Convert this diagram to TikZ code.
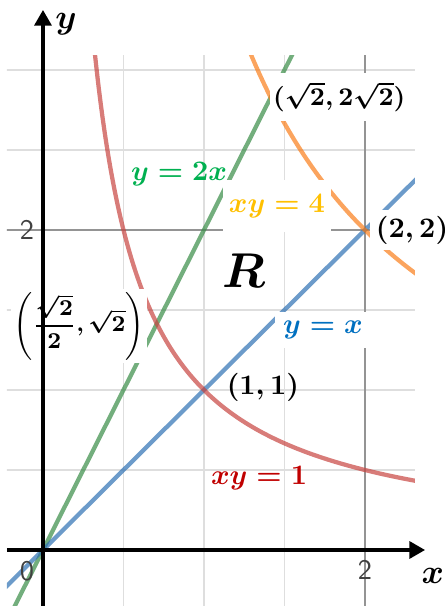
\documentclass[tikz,border=0pt]{standalone}
\usepackage{amsmath}
\usetikzlibrary{arrows.meta}
\definecolor{dsred}{HTML}{C74440}
\definecolor{dsblue}{HTML}{2D70B3}
\definecolor{dsgreen}{HTML}{388C46}
\definecolor{dsorange}{HTML}{FA7E19}
\definecolor{txtred}{HTML}{C00000}
\definecolor{txtblue}{HTML}{0070C0}
\definecolor{txtgreen}{HTML}{00B050}
\definecolor{txtgold}{HTML}{FFC000}
\tikzset{
  minorgrid/.style={draw=black!13, line width=0.55pt},
  majorgrid/.style={draw=black!42, line width=0.6pt},
  curve/.style={line width=1.5pt, opacity=0.7},
  axis/.style={line width=1.1pt, -{Triangle[length=5.5pt,width=6pt]}},
  lbl/.style={fill=white, inner sep=2pt, font=\boldmath},
  tick/.style={font=\sffamily, text=black!75, inner sep=0pt},
}
\begin{document}
\begin{tikzpicture}[x=2cm, y=1.9876cm]
\useasboundingbox (-0.267,-0.35) rectangle (2.491,3.4375);
% grid and curves:
\begin{scope}
\clip (-0.224,-0.35) rectangle (2.31,3.09);
\draw[minorgrid] (-0.5,-0.5) grid[step=0.5] (2.5,3.5);
\draw[majorgrid] (2,-0.5) -- (2,3.5) (-0.5,2) -- (2.5,2);
\draw[curve, dsgreen] (-0.5,-1) -- (2,4);
\draw[curve, dsblue] (-0.5,-0.5) -- (2.5,2.5);
\draw[curve, dsred] plot[domain=0.3:2.4, samples=90, smooth] (\x,{1/\x});
\draw[curve, dsorange] plot[domain=1.2:2.4, samples=60, smooth] (\x,{4/\x});
\end{scope}
% labels:
\node[lbl, inner xsep=1pt, inner ysep=3pt, font=\boldmath\fontsize{9.5}{11}\selectfont] (ptA) at (1.84,2.831) {$(\sqrt{2},2\sqrt{2})$};
\node[lbl] (ptB) at (2.292,2.0) {$(2,2)$};
\node[lbl, text=txtgold, inner xsep=2pt, inner ysep=5pt] (hypfour) at (1.453,2.15) {$xy=4$};
\node[lbl, text=txtgreen, fill=none] (linetwo) at (0.845,2.35) {$y=2x$};
\node[font=\boldmath\fontsize{19}{21}\selectfont] (region) at (1.248,1.744) {$R$};
\node[lbl, text=txtblue, inner sep=3pt] (lineone) at (1.739,1.375) {$y=x$};
\node[lbl, fill=none] (ptC) at (1.366,1.019) {$(1,1)$};
\node[lbl, text=txtred, fill=none] (hypone) at (1.342,0.45) {$xy=1$};
\node[lbl, inner sep=1pt, font=\boldmath\fontsize{8.5}{10}\selectfont] (ptD) at (0.224,1.4) {$\displaystyle\left(\frac{\sqrt{2}}{2},\sqrt{2}\right)$};
% axes:
\draw[axis] (-0.224,0) -- (2.373,0);
\draw[axis] (0,-0.35) -- (0,3.375);
\node[font=\boldmath\large] (xlabel) at (2.422,-0.1625) {$x$};
\node[font=\boldmath\large] (ylabel) at (0.143,3.2875) {$y$};
\node[tick] (tickx) at (2.0,-0.125) {2};
\node[tick] (ticky) at (-0.099,2.0) {2};
\node[tick] (ticko) at (-0.099,-0.131) {0};
\end{tikzpicture}
\end{document}
